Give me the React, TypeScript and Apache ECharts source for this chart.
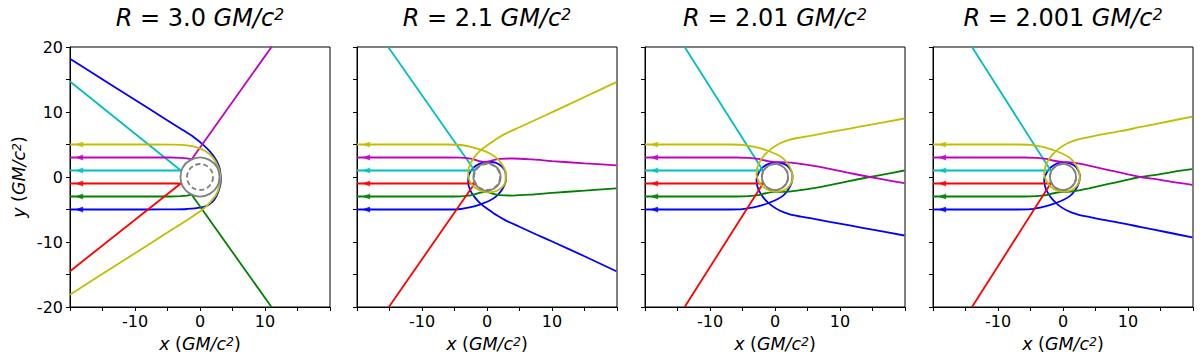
import React, { useEffect, useRef } from 'react';
import * as echarts from 'echarts';

// ---------- data ----------
const panelRadius = [3.0, 2.1, 2.01, 2.001];
const panelRadiusLabel = ['3.0', '2.1', '2.01', '2.001'];
const horizonRadius = 2;
const rayStartY = [5, 3, 1, -1, -3, -5];
const arrowX = -18.6;
const xTickLabels = [-10, 0, 10];
const yTickLabels = [-20, -10, 0, 10, 20];

// Panel 1: R = 3.0
const p1Blue = [[-20,-5],[-8,-5],[-4,-4.98],[-2,-4.92],[0,-4.72],[1.3,-4.3],[2.2,-3.5],[2.85,-2.2],[3.2,-0.5],[3.05,1.2],[2.5,2.6],[1.6,3.85],[0.5,4.95],[-1,6.15],[-2.6,7.2],[-8,10.6],[-14,14.4],[-20,18.2]];
const p1Green = [[-20,-3],[-4.5,-3],[-3,-2.95],[-2,-2.85],[-1.3,-2.7],[11,-20]];
const p1Red = [[-20,-1],[-2.95,-1],[-20,-14.5]];
const p1Cyan = [[-20,1],[-2.95,1],[-20,14.7]];
const p1Magenta = [[-20,3],[-4.5,3],[-3,2.95],[-2,2.85],[-1.3,2.7],[11,20]];
const p1Yellow = [[-20,5],[-8,5],[-4,4.97],[-2,4.85],[-0.5,4.55],[0.8,4.0],[1.9,3.1],[2.7,1.8],[3.1,0.3],[3.0,-1.3],[2.5,-2.7],[1.6,-3.85],[0.4,-5.0],[-1.2,-6.1],[-4,-7.9],[-12,-13.0],[-20,-18.1]];

// Panel 2: R = 2.1
const p2Blue = [[-20,-5],[-6,-5],[-4,-4.92],[-2.5,-4.65],[-1,-4.2],[0.3,-3.7],[1.5,-2.9],[2.4,-1.8],[2.9,-0.5],[2.85,0.7],[2.3,1.6],[1.3,2.2],[0.1,2.35],[-1.1,2.05],[-2.1,1.4],[-2.8,0.3],[-2.9,-0.8],[-2.6,-2.0],[-1.9,-3.1],[-1.0,-4.1],[0.2,-5.0],[1.5,-5.9],[3,-6.75],[5,-7.65],[7.5,-8.8],[10.2,-10.0],[15,-12.2],[19.9,-14.5]];
const p2Green = [[-20,-3],[-6,-3],[-4,-2.97],[-2.5,-2.82],[-1.2,-2.45],[-0.1,-2.3],[1,-2.6],[2,-2.8],[4,-2.85],[7,-2.7],[10,-2.45],[15,-2.1],[19.9,-1.75]];
const p2Red = [[-20,-1],[-1.9,-1],[-15.1,-20]];
const p2Cyan = [[-20,1],[-1.9,1],[-15.2,20]];
const p2Magenta = [[-20,3],[-6,3],[-4,2.97],[-2.5,2.82],[-1.2,2.45],[-0.1,2.3],[1,2.6],[2,2.8],[4,2.85],[7,2.7],[10,2.45],[15,2.1],[19.9,1.8]];
const p2Yellow = [[-20,5],[-6,5],[-4,4.92],[-2.5,4.65],[-1,4.2],[0.3,3.7],[1.5,2.9],[2.4,1.8],[2.9,0.5],[2.85,-0.7],[2.3,-1.6],[1.3,-2.2],[0.1,-2.35],[-1.1,-2.05],[-2.1,-1.4],[-2.8,-0.3],[-2.9,0.8],[-2.6,2.0],[-1.9,3.1],[-1.0,4.1],[0.2,5.0],[1.5,5.9],[3,6.75],[5,7.65],[7.5,8.8],[10.2,10.05],[15,12.3],[19.9,14.6]];

// Panel 3: R = 2.01
const p3Blue = [[-20,-5],[-7,-5],[-5,-4.95],[-3.5,-4.7],[-2.2,-4.4],[-1.0,-4.0],[0.2,-3.5],[1.2,-2.9],[2.0,-2.0],[2.55,-0.9],[2.7,0.2],[2.4,1.1],[1.8,1.8],[1.0,2.15],[0.1,2.25],[-0.9,2.05],[-1.8,1.55],[-2.5,0.7],[-2.85,-0.4],[-2.7,-1.5],[-2.3,-2.4],[-1.6,-3.4],[-0.5,-4.4],[0.8,-5.2],[2.3,-5.75],[4,-6.1],[6,-6.45],[8.4,-6.9],[11.5,-7.45],[15,-8.1],[19.9,-9.0]];
const p3Green = [[-20,-3],[-6,-3],[-4,-2.95],[-2.6,-2.8],[-1.4,-2.5],[0,-2.3],[1.2,-2.3],[2.5,-2.2],[4,-2.0],[6,-1.7],[8.4,-1.25],[11,-0.7],[14.6,0],[17,0.45],[19.9,1.0]];
const p3Red = [[-20,-1],[-1.85,-1],[-13.9,-20]];
const p3Cyan = [[-20,1],[-1.85,1],[-13.9,20]];
const p3Magenta = [[-20,3],[-6,3],[-4,2.95],[-2.6,2.8],[-1.4,2.5],[0,2.3],[1.2,2.3],[2.5,2.2],[4,2.0],[6,1.7],[8.4,1.25],[11,0.7],[14.6,0],[17,-0.45],[19.9,-0.95]];
const p3Yellow = [[-20,5],[-7,5],[-5,4.95],[-3.5,4.7],[-2.2,4.4],[-1.0,4.0],[0.2,3.5],[1.2,2.9],[2.0,2.0],[2.55,0.9],[2.7,-0.2],[2.4,-1.1],[1.8,-1.8],[1.0,-2.15],[0.1,-2.25],[-0.9,-2.05],[-1.8,-1.55],[-2.5,-0.7],[-2.85,0.4],[-2.7,1.5],[-2.3,2.4],[-1.6,3.4],[-0.5,4.4],[0.8,5.2],[2.3,5.75],[4,6.1],[6,6.45],[8.4,6.9],[11.5,7.45],[15,8.1],[19.9,9.0]];

// Panel 4: R = 2.001
const p4Blue = [[-20,-5],[-7,-5],[-5,-4.95],[-3.5,-4.7],[-2.3,-4.4],[-1.1,-4.0],[0.1,-3.5],[1.1,-2.9],[1.9,-2.0],[2.45,-0.9],[2.6,0.2],[2.3,1.1],[1.75,1.75],[0.95,2.15],[0.05,2.25],[-0.95,2.05],[-1.85,1.5],[-2.55,0.6],[-2.9,-0.4],[-2.75,-1.5],[-2.35,-2.4],[-1.65,-3.4],[-0.6,-4.4],[0.7,-5.2],[2.2,-5.75],[4,-6.15],[6,-6.55],[8.8,-7.05],[12,-7.7],[16,-8.5],[19.9,-9.3]];
const p4Green = [[-20,-3],[-6,-3],[-4,-2.95],[-2.6,-2.8],[-1.4,-2.5],[0,-2.3],[1.2,-2.25],[2.5,-2.05],[4,-1.75],[6,-1.3],[8,-0.85],[10,-0.4],[11.9,0],[14,0.3],[17,0.8],[19.9,1.2]];
const p4Red = [[-20,-1],[-1.9,-1],[-14.0,-20]];
const p4Cyan = [[-20,1],[-1.9,1],[-14.0,20]];
const p4Magenta = [[-20,3],[-6,3],[-4,2.95],[-2.6,2.8],[-1.4,2.5],[0,2.3],[1.2,2.25],[2.5,2.05],[4,1.75],[6,1.3],[8,0.85],[10,0.4],[11.9,0],[14,-0.3],[17,-0.8],[19.9,-1.2]];
const p4Yellow = [[-20,5],[-7,5],[-5,4.95],[-3.5,4.7],[-2.3,4.4],[-1.1,4.0],[0.1,3.5],[1.1,2.9],[1.9,2.0],[2.45,0.9],[2.6,-0.2],[2.3,-1.1],[1.75,-1.75],[0.95,-2.15],[0.05,-2.25],[-0.95,-2.05],[-1.85,-1.5],[-2.55,-0.6],[-2.9,0.4],[-2.75,1.5],[-2.35,2.4],[-1.65,3.4],[-0.6,4.4],[0.7,5.2],[2.2,5.75],[4,6.15],[6,6.55],[8.8,7.05],[12,7.7],[16,8.5],[19.9,9.3]];

// order: blue, green, red, cyan, magenta, yellow
const panelRays = [
  [p1Blue, p1Green, p1Red, p1Cyan, p1Magenta, p1Yellow],
  [p2Blue, p2Green, p2Red, p2Cyan, p2Magenta, p2Yellow],
  [p3Blue, p3Green, p3Red, p3Cyan, p3Magenta, p3Yellow],
  [p4Blue, p4Green, p4Red, p4Cyan, p4Magenta, p4Yellow],
];

// ---------- styling ----------
const rayColors = ['#0000ff', '#008000', '#ff0000', '#00bfbf', '#bf00bf', '#bfbf00'];
const arrowColors = ['#bfbf00', '#bf00bf', '#00bfbf', '#ff0000', '#008000', '#0000ff'];
const FONT = 'DejaVu Sans';
const gridLeft = [70, 357, 645, 933];
const gridTop = 47;
const gridSize = 260;

function buildOption() {
  const grids = gridLeft.map((l) => ({
    left: l, top: gridTop, width: gridSize, height: gridSize,
    show: true, borderColor: '#000', borderWidth: 1, backgroundColor: 'transparent',
  }));
  const labelRich = {
    i: { fontStyle: 'italic', fontSize: 17.5, fontFamily: FONT, color: '#000' },
    s: { fontStyle: 'italic', fontSize: 12.5, fontFamily: FONT, color: '#000', verticalAlign: 'top' },
  };
  const xAxes = gridLeft.map((_, i) => ({
    gridIndex: i, type: 'value', min: -20, max: 20, interval: 5,
    axisLine: { show: true, onZero: false, lineStyle: { color: '#000', width: 1 } },
    axisTick: { show: true, length: 4, lineStyle: { color: '#000', width: 1 } },
    splitLine: { show: false },
    axisLabel: {
      color: '#000', fontSize: 16, fontFamily: FONT, margin: 6,
      formatter: (v: number) => (xTickLabels.includes(v) ? String(v) : ''),
    },
    name: '{i|x} ({i|GM/c}{s|2})',
    nameLocation: 'middle', nameGap: 28,
    nameTextStyle: { fontSize: 17.5, fontFamily: FONT, color: '#000', rich: labelRich },
  }));
  const yAxes = gridLeft.map((_, i) => ({
    gridIndex: i, type: 'value', min: -20, max: 20, interval: 5,
    axisLine: { show: true, onZero: false, lineStyle: { color: '#000', width: 1 } },
    axisTick: { show: true, length: 4, lineStyle: { color: '#000', width: 1 } },
    splitLine: { show: false },
    axisLabel: {
      show: i === 0, color: '#000', fontSize: 16, fontFamily: FONT, margin: 7,
      formatter: (v: number) => (yTickLabels.includes(v) ? String(v) : ''),
    },
    name: i === 0 ? '{i|y} ({i|GM/c}{s|2})' : '',
    nameLocation: 'middle', nameGap: 42, nameRotate: 90,
    nameTextStyle: { fontSize: 17.5, fontFamily: FONT, color: '#000', rich: labelRich },
  }));

  const series: any[] = [];
  panelRays.forEach((rays, i) => {
    rays.forEach((pts, k) => {
      const straight = k === 2 || k === 3 || (i === 0 && (k === 1 || k === 4));
      series.push({
        type: 'line', xAxisIndex: i, yAxisIndex: i, data: pts,
        showSymbol: false, symbol: 'none', smooth: straight ? false : 0.3,
        lineStyle: { color: rayColors[k], width: 1.8 }, z: 2 + k * 0.01,
        silent: true, clip: true,
      });
    });
    series.push({
      type: 'scatter', xAxisIndex: i, yAxisIndex: i,
      data: rayStartY.map((y, k) => ({ value: [arrowX, y], itemStyle: { color: arrowColors[k] } })),
      symbol: 'triangle', symbolSize: [6, 8], symbolRotate: 90, z: 3, silent: true,
    });
    const circleData = [[0, 0, panelRadius[i], 0], [0, 0, horizonRadius, 1]];
    series.push({
      type: 'custom', xAxisIndex: i, yAxisIndex: i, coordinateSystem: 'cartesian2d',
      data: circleData, z: 4, silent: true,
      renderItem: (params: any, api: any) => {
        const c = api.coord([api.value(0), api.value(1)]);
        const r = api.size([api.value(2), 0])[0];
        const dashed = api.value(3) === 1;
        return {
          type: 'circle',
          shape: { cx: c[0], cy: c[1], r },
          style: { fill: 'none', stroke: '#808080', lineWidth: 1.8, lineDash: dashed ? [5, 3] : null },
        };
      },
    });
  });

  const titleRich = {
    i: { fontStyle: 'italic', fontSize: 24, fontFamily: FONT, fill: '#000' },
    s: { fontStyle: 'italic', fontSize: 16, fontFamily: FONT, fill: '#000', verticalAlign: 'top' },
  };
  const graphic = gridLeft.map((l, i) => ({
    type: 'text', x: l + gridSize / 2, y: 6, silent: true,
    style: {
      text: `{i|R} = ${panelRadiusLabel[i]} {i|GM/c}{s|2}`,
      fontSize: 24, fontFamily: FONT, fill: '#000', align: 'center', verticalAlign: 'top',
      rich: titleRich,
    },
  }));

  return {
    animation: false,
    backgroundColor: '#ffffff',
    textStyle: { fontFamily: FONT },
    grid: grids, xAxis: xAxes, yAxis: yAxes, series, graphic,
  };
}

export default function App() {
  const ref = useRef<HTMLDivElement>(null);
  useEffect(() => {
    if (!ref.current) return;
    const chart = echarts.init(ref.current, null, { renderer: 'svg' });
    chart.setOption(buildOption() as any);
    return () => chart.dispose();
  }, []);
  return (
    <div
      ref={ref}
      style={{ position: 'fixed', left: 0, top: 0, width: 1200, height: 364, background: '#fff' }}
    />
  );
}
